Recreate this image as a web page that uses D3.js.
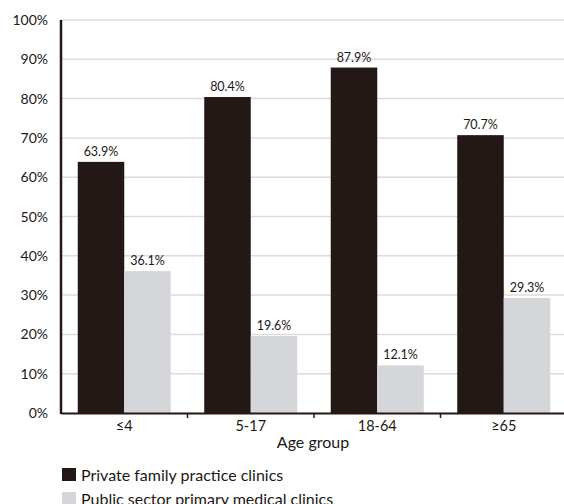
<!DOCTYPE html>
<html>
<head>
<meta charset="utf-8">
<script src="https://cdn.jsdelivr.net/npm/d3@7"></script>
<style>
  body { margin: 0; background: #fff; }
  text { font-family: Lato, "Open Sans", sans-serif; fill: #231815; }
</style>
</head>
<body>
<div id="chart"></div>
<script>
var ageGroups = ["\u22644", "5-17", "18-64", "\u226565"];
var seriesNames = ["Private family practice clinics", "Public sector primary medical clinics"];
var privateVals = [63.9, 80.4, 87.9, 70.7];
var publicVals = [36.1, 19.6, 12.1, 29.3];
var yTicks = [0, 10, 20, 30, 40, 50, 60, 70, 80, 90, 100];
var colors = ["#231815", "#d5d6da"];

var width = 564, height = 504;
var margin = {top: 20, left: 61, right: 0, bottom: 91};

var svg = d3.select("#chart").append("svg")
    .attr("width", width)
    .attr("height", height);

var x0 = d3.scaleBand().domain(ageGroups).range([margin.left, 567]).padding(0);
var x1 = d3.scaleBand().domain([0, 1]).range([0, x0.bandwidth()]).paddingInner(0).paddingOuter(0.36);
var y = d3.scaleLinear().domain([0, 100]).range([413, margin.top]);

// gridlines
svg.append("g")
    .selectAll("line")
    .data(yTicks.slice(1))
    .enter().append("line")
    .attr("x1", margin.left).attr("x2", width)
    .attr("y1", function(d) { return y(d); })
    .attr("y2", function(d) { return y(d); })
    .attr("stroke", "#dcdcdc")
    .attr("stroke-width", 1.5);

// y labels
svg.append("g")
    .selectAll("text")
    .data(yTicks)
    .enter().append("text")
    .attr("x", 48)
    .attr("y", function(d) { return y(d); })
    .attr("dy", "0.36em")
    .attr("text-anchor", "end")
    .style("font-size", "14px")
    .text(function(d) { return d + "%"; });

var data = ageGroups.map(function(g, i) { return {group: g, vals: [privateVals[i], publicVals[i]]}; });

var groups = svg.append("g").selectAll("g")
    .data(data)
    .enter().append("g")
    .attr("transform", function(d) { return "translate(" + x0(d.group) + ",0)"; });

groups.selectAll("rect")
    .data(function(d) { return d.vals; })
    .enter().append("rect")
    .attr("x", function(d, i) { return x1(i); })
    .attr("width", x1.bandwidth())
    .attr("y", function(d) { return y(d); })
    .attr("height", function(d) { return y(0) - y(d); })
    .attr("fill", function(d, i) { return colors[i]; });

groups.selectAll("text.val")
    .data(function(d) { return d.vals; })
    .enter().append("text")
    .attr("class", "val")
    .attr("x", function(d, i) { return x1(i) + x1.bandwidth() / 2; })
    .attr("y", function(d) { return y(d) - 6; })
    .attr("text-anchor", "middle")
    .style("font-size", "12.5px")
    .text(function(d) { return d.toFixed(1) + "%"; });

// axes lines
svg.append("line")
    .attr("x1", margin.left).attr("x2", margin.left)
    .attr("y1", margin.top).attr("y2", 414)
    .attr("stroke", "#231815").attr("stroke-width", 2.5);

var xAxis = d3.axisBottom(x0).tickSize(0).tickPadding(8);
var xg = svg.append("g")
    .attr("transform", "translate(0,413)")
    .call(xAxis);
xg.select(".domain").attr("stroke", "#231815").attr("stroke-width", 2);
xg.selectAll("text").style("font-size", "14.5px").style("font-family", "Lato, sans-serif").attr("fill", "#231815");

// separator ticks between groups
xg.selectAll("line.sep")
    .data(ageGroups.slice(1))
    .enter().append("line")
    .attr("class", "sep")
    .attr("x1", function(d) { return x0(d); })
    .attr("x2", function(d) { return x0(d); })
    .attr("y1", 0).attr("y2", 5)
    .attr("stroke", "#231815").attr("stroke-width", 1.5);

svg.append("text")
    .attr("x", 313)
    .attr("y", 448)
    .attr("text-anchor", "middle")
    .style("font-size", "16px")
    .text("Age group");

// legend
var legend = svg.append("g").selectAll("g")
    .data(seriesNames)
    .enter().append("g")
    .attr("transform", function(d, i) { return "translate(62," + (468 + i * 24) + ")"; });

legend.append("rect")
    .attr("width", 14).attr("height", 13)
    .attr("fill", function(d, i) { return colors[i]; });

legend.append("text")
    .attr("x", 19)
    .attr("y", 7)
    .attr("dy", "0.36em")
    .style("font-size", "16px")
    .text(function(d) { return d; });
</script>
</body>
</html>
